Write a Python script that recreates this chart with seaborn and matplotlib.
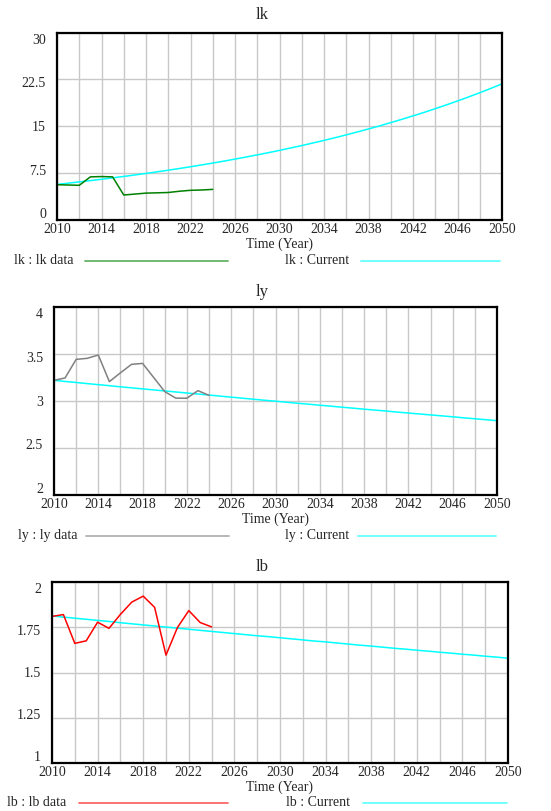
import numpy as np
import pandas as pd
import matplotlib
matplotlib.use("Agg")
import matplotlib.pyplot as plt
import seaborn as sns
from matplotlib.lines import Line2D

# ---------------- data ----------------
years_data = list(range(2010, 2025))
years_sim = list(range(2010, 2051))

lk_data = [5.65, 5.6, 5.55, 6.9, 6.95, 6.9, 4.0, 4.15, 4.3, 4.35, 4.4, 4.6, 4.75, 4.8, 4.9]
lk_current = [5.70, 5.89, 6.10, 6.30, 6.52, 6.74, 6.97, 7.21, 7.45, 7.71,
              7.97, 8.24, 8.52, 8.81, 9.11, 9.42, 9.74, 10.08, 10.42, 10.77,
              11.14, 11.52, 11.91, 12.32, 12.74, 13.17, 13.62, 14.09, 14.57, 15.06,
              15.58, 16.11, 16.66, 17.22, 17.81, 18.42, 19.04, 19.69, 20.36, 21.06,
              21.78]

ly_data = [3.22, 3.245, 3.443, 3.454, 3.489, 3.206, 3.30, 3.39, 3.40, 3.25,
           3.10, 3.03, 3.03, 3.11, 3.06]
ly_current = [3.220, 3.208, 3.197, 3.185, 3.174, 3.163, 3.151, 3.140, 3.129, 3.118,
              3.107, 3.096, 3.085, 3.074, 3.063, 3.052, 3.041, 3.030, 3.019, 3.008,
              2.998, 2.987, 2.976, 2.966, 2.955, 2.945, 2.934, 2.924, 2.913, 2.903,
              2.893, 2.882, 2.872, 2.862, 2.852, 2.842, 2.832, 2.821, 2.811, 2.801,
              2.791]

lb_data = [1.81, 1.82, 1.661, 1.675, 1.778, 1.744, 1.821, 1.889, 1.922, 1.86,
           1.596, 1.748, 1.842, 1.776, 1.752]
lb_current = [1.8125, 1.806, 1.800, 1.794, 1.788, 1.782, 1.775, 1.769, 1.763, 1.757,
              1.751, 1.745, 1.739, 1.733, 1.727, 1.721, 1.715, 1.709, 1.703, 1.698,
              1.692, 1.686, 1.680, 1.674, 1.669, 1.663, 1.657, 1.651, 1.646, 1.640,
              1.634, 1.629, 1.623, 1.618, 1.612, 1.607, 1.601, 1.596, 1.590, 1.585,
              1.579]

x_tick_years = list(range(2010, 2051, 4))
x_grid_years = list(range(2010, 2051, 2))

lk_yticks = [0, 7.5, 15, 22.5, 30]
lk_ylabels = ["0", "7.5", "15", "22.5", "30"]
ly_yticks = [2, 2.5, 3, 3.5, 4]
ly_ylabels = ["2", "2.5", "3", "3.5", "4"]
lb_yticks = [1, 1.25, 1.5, 1.75, 2]
lb_ylabels = ["1", "1.25", "1.5", "1.75", "2"]

# ---------------- style ----------------
sns.set_theme(style="white")
plt.rcParams["font.family"] = ["Liberation Serif", "DejaVu Serif"]
plt.rcParams["axes.linewidth"] = 1.6

W, H = 551, 811
fig = plt.figure(figsize=(W / 100, H / 100), dpi=100)
FS = 10

def fx(px):
    return px / W

def fy(py):
    return 1 - py / H

panels = [
    dict(name="lk", data=lk_data, cur=lk_current, yt=lk_yticks, yl=lk_ylabels,
         color="#008000", rect=(57, 32.5, 502, 220), title_y=15, leg_y=261,
         leg=[(14, 85, 228), (285, 361, 500)]),
    dict(name="ly", data=ly_data, cur=ly_current, yt=ly_yticks, yl=ly_ylabels,
         color="#808080", rect=(54, 307, 497, 495), title_y=292, leg_y=536,
         leg=[(18, 86, 229), (285, 358, 496)]),
    dict(name="lb", data=lb_data, cur=lb_current, yt=lb_yticks, yl=lb_ylabels,
         color="#ff0000", rect=(52, 582, 508, 763), title_y=567, leg_y=803,
         leg=[(7, 79, 228), (286, 363, 507)]),
]

for p in panels:
    l, t, r, b = p["rect"]
    ax = fig.add_axes([fx(l), fy(b), (r - l) / W, (b - t) / H])
    df_cur = pd.DataFrame({"Year": years_sim, "value": p["cur"]})
    df_dat = pd.DataFrame({"Year": years_data, "value": p["data"]})
    sns.lineplot(data=df_cur, x="Year", y="value", ax=ax, color="#00ffff", lw=1.1)
    sns.lineplot(data=df_dat, x="Year", y="value", ax=ax, color=p["color"], lw=1.1)

    ymin, ymax = p["yt"][0], p["yt"][-1]
    ax.set_xlim(2010, 2050)
    ax.set_ylim(ymin, ymax)

    # x labels (major) every 4 years, vertical grid every 2 years
    ax.set_xticks(x_tick_years)
    ax.set_xticklabels([str(y) for y in x_tick_years], fontsize=FS)
    ax.set_xticks(x_grid_years, minor=True)
    # horizontal grid on minor y ticks at the true values
    ax.set_yticks(p["yt"], minor=True)
    # y labels spread the Vensim way
    n = len(p["yt"])
    fr = [0.036 + i * 0.932 / (n - 1) for i in range(n)]
    ax.set_yticks([ymin + f * (ymax - ymin) for f in fr])
    ax.set_yticklabels(p["yl"], fontsize=FS)

    ax.grid(False)
    ax.grid(which="both", axis="x", color="#c8c8c8", lw=1.0)
    ax.grid(which="minor", axis="y", color="#c8c8c8", lw=1.0)
    ax.set_axisbelow(True)

    ax.tick_params(which="both", length=0)
    ax.tick_params(axis="x", pad=2.5)
    ax.tick_params(axis="y", pad=8)
    ax.set_ylabel("")
    ax.set_xlabel("Time (Year)", fontsize=FS, labelpad=1)
    for s in ax.spines.values():
        s.set_color("black")
        s.set_linewidth(1.6)

    fig.text(fx(262), fy(p["title_y"]), p["name"], fontsize=12, ha="center", va="center")

    ly = fy(p["leg_y"])
    labels = [f"{p['name']} : {p['name']} data", f"{p['name']} : Current"]
    colors = [p["color"], "#00ffff"]
    for (tx, x0, x1), lab, c in zip(p["leg"], labels, colors):
        fig.text(fx(tx), ly, lab, fontsize=FS, ha="left", va="center")
        fig.add_artist(Line2D([fx(x0), fx(x1)], [ly, ly], color=c, lw=1.3, alpha=0.6,
                              transform=fig.transFigure))

fig.savefig("out.png", dpi=100)
